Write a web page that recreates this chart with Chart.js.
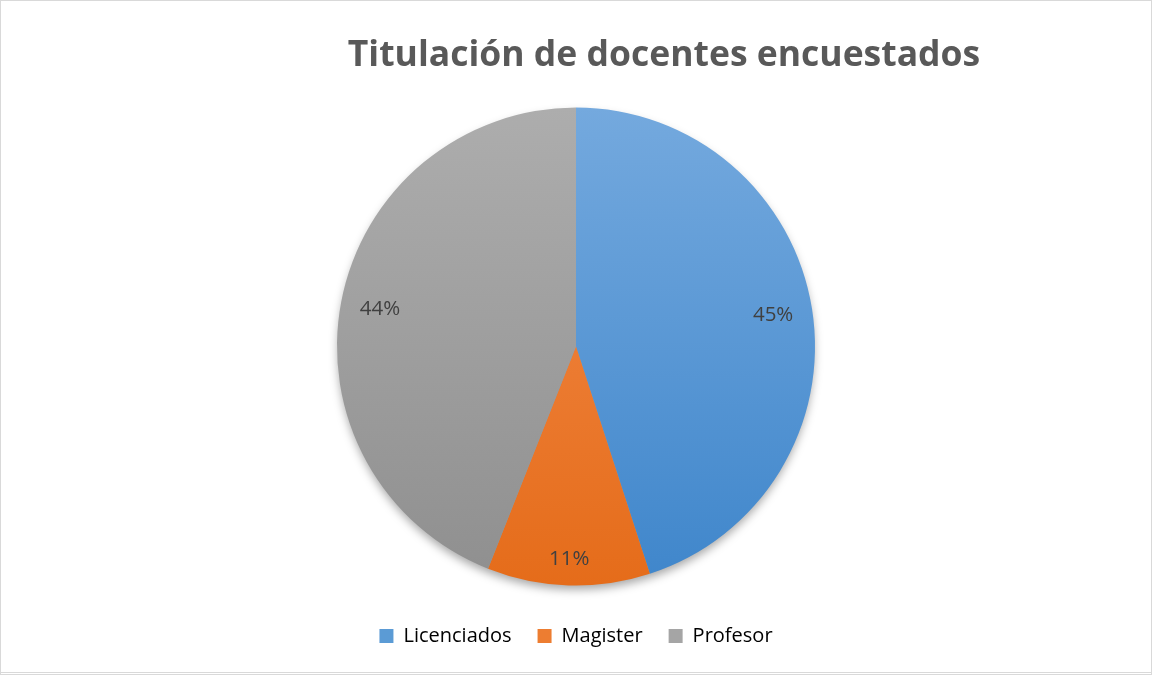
<!DOCTYPE html>
<html>
<head>
<meta charset="utf-8">
<script src="https://cdn.jsdelivr.net/npm/chart.js@4"></script>
<style>
  html, body { margin: 0; padding: 0; background: #fff; }
  #wrap { position: relative; width: 1152px; height: 675px; box-sizing: border-box; border: 1px solid #d9d9d9; border-bottom: 3px double #d9d9d9; }
</style>
</head>
<body>
<div id="wrap"><canvas id="grafico"></canvas></div>
<script>
const titulo = "Titulación de docentes encuestados";
const categorias = ["Licenciados", "Magister", "Profesor"];
const porcentajes = [45, 11, 44];
const coloresArriba = ["#74a9de", "#f38c4c", "#adadad"];
const coloresAbajo = ["#3f86cb", "#e56c1a", "#8f8f8f"];
const coloresLeyenda = ["#5b9bd5", "#ed7d31", "#a5a5a5"];
const distEtiqueta = [0.835, 0.89, 0.835];
const radioPie = 239;

function degradado(ctx) {
  const chart = ctx.chart;
  const area = chart.chartArea;
  if (!area || !isFinite(area.top) || !isFinite(area.bottom)) return coloresLeyenda[ctx.dataIndex];
  const cy = (area.top + area.bottom) / 2;
  const g = chart.ctx.createLinearGradient(0, cy - radioPie, 0, cy + radioPie);
  g.addColorStop(0, coloresArriba[ctx.dataIndex]);
  g.addColorStop(1, coloresAbajo[ctx.dataIndex]);
  return g;
}

// título, sombra y etiquetas de porcentaje
const extras = {
  id: "extras",
  beforeDatasetsDraw(chart) {
    const ctx = chart.ctx;
    const arc = chart.getDatasetMeta(0).data[0];
    if (!arc) return;
    ctx.save();
    ctx.shadowColor = "rgba(0,0,0,0.35)";
    ctx.shadowBlur = 10;
    ctx.shadowOffsetY = 5;
    ctx.beginPath();
    ctx.arc(arc.x, arc.y, arc.outerRadius - 1, 0, Math.PI * 2);
    ctx.fillStyle = "#999";
    ctx.fill();
    ctx.restore();
  },
  afterDraw(chart) {
    const ctx = chart.ctx;
    ctx.save();
    ctx.fillStyle = "#595959";
    ctx.font = "bold 35.5px 'Open Sans', sans-serif";
    ctx.textAlign = "center";
    ctx.textBaseline = "middle";
    ctx.fillText(titulo, 663, 55);

    ctx.fillStyle = "#404040";
    ctx.font = "20.5px 'Open Sans', sans-serif";
    chart.getDatasetMeta(0).data.forEach((arc, i) => {
      const mid = (arc.startAngle + arc.endAngle) / 2;
      const d = arc.outerRadius * distEtiqueta[i];
      ctx.fillText(porcentajes[i] + "%", arc.x + Math.cos(mid) * d, arc.y + Math.sin(mid) * d);
    });
    ctx.restore();
  }
};

new Chart(document.getElementById("grafico"), {
  type: "pie",
  data: {
    labels: categorias,
    datasets: [{
      data: porcentajes,
      backgroundColor: degradado,
      borderWidth: 0,
      radius: radioPie
    }]
  },
  options: {
    responsive: true,
    maintainAspectRatio: false,
    animation: false,
    layout: { padding: { top: 92, bottom: 16, left: 0, right: 0 } },
    plugins: {
      tooltip: { enabled: false },
      legend: {
        position: "bottom",
        labels: {
          color: "#595959",
          font: { size: 20, family: "'Open Sans', sans-serif" },
          boxWidth: 14,
          boxHeight: 14,
          padding: 26,
          generateLabels: chart => categorias.map((c, i) => ({
            text: c,
            fillStyle: coloresLeyenda[i],
            strokeStyle: coloresLeyenda[i],
            lineWidth: 0,
            index: i
          }))
        }
      }
    }
  },
  plugins: [extras]
});
</script>
</body>
</html>
